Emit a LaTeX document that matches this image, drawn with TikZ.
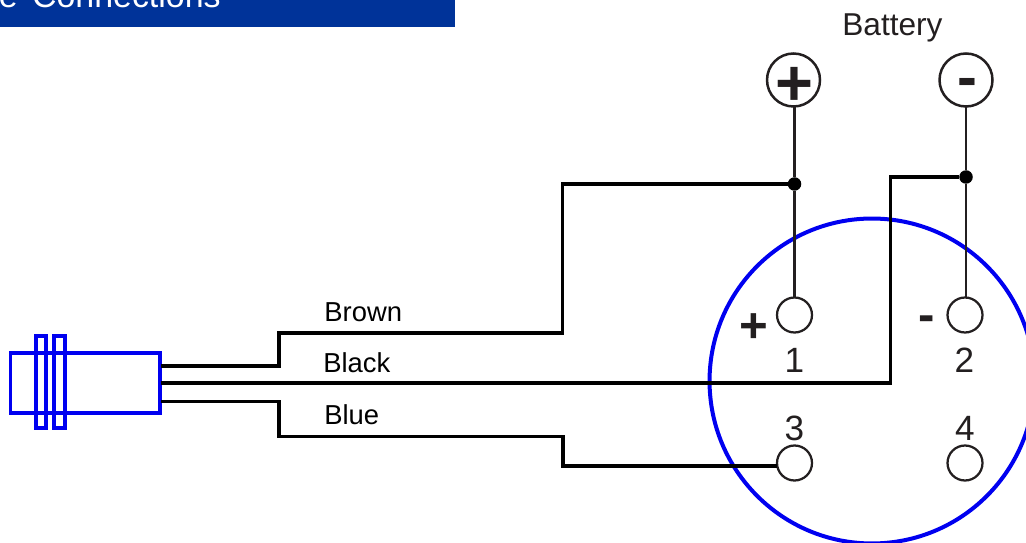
\documentclass[tikz,border=0pt]{standalone}
\usepackage{fontspec}
\setmainfont{Liberation Sans}
\definecolor{barblue}{HTML}{003399}
\definecolor{partblue}{HTML}{0000F0}
\definecolor{inkgrey}{HTML}{231F20}
\tikzset{
    wire/.style={line width=0.065cm, black},
    lead/.style={line width=0.05cm, inkgrey},
    pin/.style={circle, draw=inkgrey, line width=0.045cm, minimum size=0.7cm, inner sep=0pt, outer sep=0pt},
    terminal/.style={circle, draw=inkgrey, line width=0.05cm, minimum size=1.06cm, inner sep=0pt, outer sep=0pt},
    junction/.style={circle, fill=black, minimum size=0.27cm, inner sep=0pt, outer sep=0pt},
    housing/.style={draw=partblue, line width=0.08cm, inner sep=0pt, outer sep=0pt},
    wirelabel/.style={anchor=base west, inner sep=0pt, font=\fontsize{15.6pt}{18pt}\selectfont},
    pinlabel/.style={anchor=base, inner sep=0pt, text=inkgrey, font=\fontsize{20pt}{24pt}\selectfont},
}
\begin{document}
\begin{tikzpicture}[x=0.02cm, y=-0.02cm]
    \clip (0,0) rectangle (1026,543);
    % title bar
    \fill[barblue] (0,0) rectangle (455,27);
    \node[anchor=base east, inner sep=0pt, text=white, font=\fontsize{19.3pt}{22pt}\selectfont] (title) at (221,7.5) {e\ \kern2.8pt Connections};
    % connector body
    \node[housing, circle, minimum size=6.5cm] (body) at (872,381) {};
    % sensor
    \node[housing, rectangle, anchor=north west, minimum width=3cm, minimum height=1.22cm] (sensor) at (10.5,352.5) {};
    \node[housing, rectangle, anchor=north west, minimum width=0.22cm, minimum height=1.84cm] (flangeA) at (35.5,336) {};
    \node[housing, rectangle, anchor=north west, minimum width=0.22cm, minimum height=1.84cm] (flangeB) at (54,336) {};
    % pins and battery
    \node[pin] (pinA) at (794.5,315) {};
    \node[pin] (pinB) at (965,315) {};
    \node[pin] (pinC) at (794.5,463) {};
    \node[pin] (pinD) at (965,463) {};
    \node[terminal] (plus) at (793.5,80) {};
    \node[terminal] (minus) at (966,80) {};
    \node[anchor=base, inner sep=0pt, text=inkgrey, font=\fontsize{37pt}{38pt}\selectfont\bfseries] (plussign) at (794.5,106) {+};
    \node[anchor=base, inner sep=0pt, text=inkgrey, font=\fontsize{34pt}{36pt}\selectfont\bfseries] (minussign) at (967,98) {-};
    \node[junction] (jplus) at (794.5,184) {};
    \node[junction] (jminus) at (966,177) {};
    \draw[lead] (jplus |- plus.south) -- (jplus) -- (pinA);
    \draw[lead] (minus) -- (jminus) -- (jminus |- pinB.north);
    % wires
    \coordinate (brownout) at (161,366);
    \coordinate (blackout) at (161,383);
    \coordinate (blueout) at (161,401.5);
    \draw[wire] (brownout) -- (279,366) -- (279,333) -- (562.5,333) -- (562.5,184) -- (jplus);
    \draw[wire] (blackout) -- (890.5,383) -- (890.5,177) -- (jminus);
    \draw[wire] (blueout) -- (279,401.5) -- (279,436.5) -- (563,436.5) -- (563,466) -- (pinC.west |- 0,466);
    % labels
    \node[anchor=base west, inner sep=0pt, text=inkgrey, font=\fontsize{18pt}{22pt}\selectfont] (battery) at (842,36) {Battery};
    \node[wirelabel] (brown) at (324,321) {Brown};
    \node[wirelabel] (black) at (323,372) {Black};
    \node[wirelabel] (blue) at (324,424) {Blue};
    \node[pinlabel] (numA) at (794.5,372) {1};
    \node[pinlabel] (numB) at (964.5,372) {2};
    \node[pinlabel] (numC) at (794.5,440) {3};
    \node[pinlabel] (numD) at (965,440) {4};
    \node[anchor=base, inner sep=0pt, text=inkgrey, font=\fontsize{28pt}{30pt}\selectfont\bfseries] (pluspin) at (754,342) {+};
    \node[anchor=base, inner sep=0pt, text=inkgrey, font=\fontsize{28pt}{30pt}\selectfont\bfseries] (minuspin) at (927,332) {-};
\end{tikzpicture}
\end{document}
